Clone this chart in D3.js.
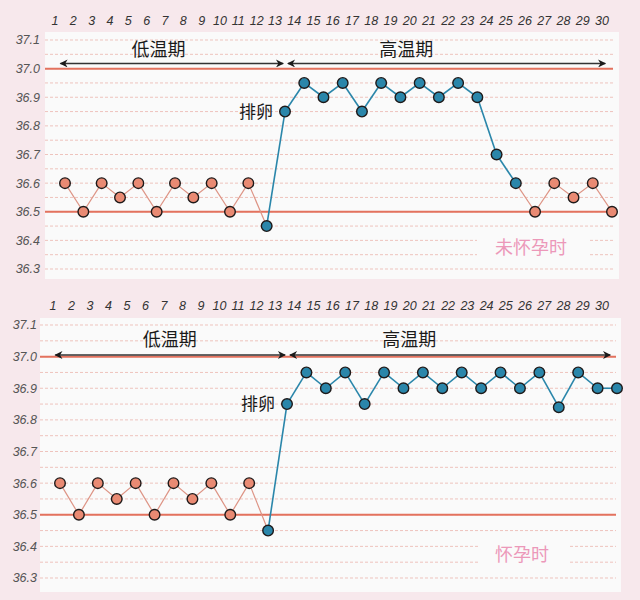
<!DOCTYPE html>
<html>
<head>
<meta charset="utf-8">
<script src="https://cdn.jsdelivr.net/npm/d3@7"></script>
<style>
  body { margin: 0; background: #f7e8ec; }
  svg { display: block; }
</style>
</head>
<body>
<svg id="chart" width="640" height="600"></svg>
<script>
// 日期 (横轴)
const dias = [1, 2, 3, 4, 5, 6, 7, 8, 9, 10, 11, 12, 13, 14, 15, 16, 17, 18, 19, 20, 21, 22, 23, 24, 25, 26, 27, 28, 29, 30];

// 体温刻度
const ticksTemp = [37.1, 37.0, 36.9, 36.8, 36.7, 36.6, 36.5, 36.4, 36.3];
const lineasGuia = [37.1, 37.05, 37.0, 36.95, 36.9, 36.85, 36.8, 36.75, 36.7, 36.65, 36.6, 36.55, 36.5, 36.45, 36.4, 36.35, 36.3];
const lineasRojas = [37.0, 36.5];

// 未怀孕时
const tempNoEmbarazo = [36.6, 36.5, 36.6, 36.55, 36.6, 36.5, 36.6, 36.55, 36.6, 36.5, 36.6, 36.45, 36.85, 36.95, 36.9,
    36.95, 36.85, 36.95, 36.9, 36.95, 36.9, 36.95, 36.9, 36.7, 36.6, 36.5, 36.6, 36.55, 36.6, 36.5];
const faseNoEmbarazo = ['b', 'b', 'b', 'b', 'b', 'b', 'b', 'b', 'b', 'b', 'b', 'a', 'a', 'a', 'a',
    'a', 'a', 'a', 'a', 'a', 'a', 'a', 'a', 'a', 'a', 'b', 'b', 'b', 'b', 'b'];

// 怀孕时
const tempEmbarazo = [36.6, 36.5, 36.6, 36.55, 36.6, 36.5, 36.6, 36.55, 36.6, 36.5, 36.6, 36.45, 36.85, 36.95, 36.9,
    36.95, 36.85, 36.95, 36.9, 36.95, 36.9, 36.95, 36.9, 36.95, 36.9, 36.95, 36.84, 36.95, 36.9, 36.9];
const faseEmbarazo = ['b', 'b', 'b', 'b', 'b', 'b', 'b', 'b', 'b', 'b', 'b', 'a', 'a', 'a', 'a',
    'a', 'a', 'a', 'a', 'a', 'a', 'a', 'a', 'a', 'a', 'a', 'a', 'a', 'a', 'a'];

const colorNaranja = "#e98a73";
const colorAzul = "#2a86aa";
const fuenteCJK = "'Noto Sans CJK SC', sans-serif";

const svg = d3.select("#chart");

// Función para dibujar un gráfico
function dibujarGrafico(cfg) {
    const g = svg.append("g");

    // fondo del panel
    g.append("rect")
        .attr("x", cfg.panel[0]).attr("y", cfg.panel[1])
        .attr("width", cfg.panel[2] - cfg.panel[0])
        .attr("height", cfg.panel[3] - cfg.panel[1])
        .attr("fill", "#fafafa");

    const x = d3.scaleLinear().domain([1, 13, 30]).range(cfg.xRango);
    const xEtiqueta = d3.scaleLinear().domain([1, 13, 30]).range(cfg.xEtiquetas);
    const y = d3.scaleLinear().domain([36.3, 37.1]).range(cfg.yRango);

    // lineas guia
    g.selectAll(".guia")
        .data(lineasGuia)
        .enter()
        .append("line")
        .attr("x1", cfg.lineaX[0]).attr("x2", cfg.lineaX[1])
        .attr("y1", d => y(d)).attr("y2", d => y(d))
        .attr("stroke", "#eec3bd")
        .attr("stroke-width", 1)
        .attr("stroke-dasharray", "3,2");

    // texto rosa con hueco en las lineas
    g.append("rect")
        .attr("x", cfg.hueco[0]).attr("width", cfg.hueco[1] - cfg.hueco[0])
        .attr("y", y(36.415)).attr("height", y(36.335) - y(36.415))
        .attr("fill", "#fafafa");
    g.append("text")
        .attr("x", cfg.nota[0]).attr("y", y(36.375))
        .attr("dy", "0.36em")
        .attr("font-family", fuenteCJK)
        .attr("font-size", 18)
        .attr("fill", "#ec98b9")
        .text(cfg.notaTexto);

    // lineas rojas
    g.selectAll(".roja")
        .data(lineasRojas)
        .enter()
        .append("line")
        .attr("x1", cfg.lineaX[0]).attr("x2", cfg.lineaX[1])
        .attr("y1", d => y(d)).attr("y2", d => y(d))
        .attr("stroke", "#e3725e")
        .attr("stroke-width", 2);

    // eje y
    g.selectAll(".ytick")
        .data(ticksTemp)
        .enter()
        .append("text")
        .attr("x", cfg.yEtiquetaX)
        .attr("y", d => y(d))
        .attr("dy", "0.35em")
        .attr("text-anchor", "end")
        .attr("font-family", "Liberation Sans, Arial, sans-serif")
        .attr("font-style", "italic")
        .attr("font-size", 12.5)
        .attr("fill", "#555")
        .text(d => d3.format(".1f")(d));

    // eje x
    g.selectAll(".xtick")
        .data(dias)
        .enter()
        .append("text")
        .attr("x", d => xEtiqueta(d))
        .attr("y", cfg.xEtiquetaY)
        .attr("text-anchor", "middle")
        .attr("font-family", "Liberation Sans, Arial, sans-serif")
        .attr("font-style", "italic")
        .attr("font-size", 12.5)
        .attr("fill", "#333")
        .text(d => d);

    // flechas
    const yFlecha = y(cfg.flechaTemp);
    const flechas = [[0.75, 12.9], [13.15, 29.65]];
    g.selectAll(".flecha")
        .data(flechas)
        .enter()
        .append("line")
        .attr("x1", d => x(d[0])).attr("x2", d => x(d[1]))
        .attr("y1", yFlecha).attr("y2", yFlecha)
        .attr("stroke", "#333")
        .attr("stroke-width", 1.6)
        .attr("marker-start", "url(#punta)")
        .attr("marker-end", "url(#punta)");

    g.selectAll(".fase")
        .data([["低温期", cfg.textoBajo], ["高温期", cfg.textoAlto]])
        .enter()
        .append("text")
        .attr("x", d => x(d[1]))
        .attr("y", d => y(cfg.faseTemp))
        .attr("dy", "0.36em")
        .attr("text-anchor", "middle")
        .attr("font-family", fuenteCJK)
        .attr("font-size", 18)
        .attr("fill", "#1a1a1a")
        .text(d => d[0]);

    // segmentos
    const puntos = dias.map((d, i) => ({ dia: d, temp: cfg.temp[i], fase: cfg.fase[i] }));
    const segmentos = d3.pairs(puntos);
    g.selectAll(".seg")
        .data(segmentos)
        .enter()
        .append("line")
        .attr("x1", d => x(d[0].dia)).attr("y1", d => y(d[0].temp))
        .attr("x2", d => x(d[1].dia)).attr("y2", d => y(d[1].temp))
        .attr("stroke", d => (d[0].fase === 'a' && d[1].fase === 'a') ? colorAzul : "#dd9384")
        .attr("stroke-width", d => (d[0].fase === 'a' && d[1].fase === 'a') ? 1.6 : 1.2);

    // puntos
    g.selectAll(".punto")
        .data(puntos)
        .enter()
        .append("circle")
        .attr("cx", d => x(d.dia))
        .attr("cy", d => y(d.temp))
        .attr("r", 5.3)
        .attr("fill", d => d.fase === 'a' ? colorAzul : colorNaranja)
        .attr("stroke", "#1e1a1a")
        .attr("stroke-width", 1.4);

    // 排卵
    g.append("text")
        .attr("x", x(13) - 12)
        .attr("y", y(36.85))
        .attr("dy", "0.36em")
        .attr("text-anchor", "end")
        .attr("font-family", fuenteCJK)
        .attr("font-size", 17)
        .attr("fill", "#1a1a1a")
        .text("排卵");
}

// marcador de flecha
svg.append("defs").append("marker")
    .attr("id", "punta")
    .attr("viewBox", "0 -5 10 10")
    .attr("refX", 9)
    .attr("refY", 0)
    .attr("markerWidth", 11)
    .attr("markerHeight", 8)
    .attr("markerUnits", "userSpaceOnUse")
    .attr("orient", "auto-start-reverse")
    .append("path")
    .attr("d", "M0,-5L10,0L0,5L3,0Z")
    .attr("fill", "#1a1a1a");

dibujarGrafico({
    panel: [45, 32, 619, 279],
    xRango: [65, 285, 612],
    xEtiquetas: [55, 275, 602],
    yRango: [269, 40],
    lineaX: [45, 613],
    yEtiquetaX: 40,
    xEtiquetaY: 25,
    flechaTemp: 37.018,
    faseTemp: 37.065,
    textoBajo: 6.1,
    textoAlto: 19.3,
    temp: tempNoEmbarazo,
    fase: faseNoEmbarazo,
    hueco: [477, 590],
    nota: [495],
    notaTexto: "未怀孕时"
});

dibujarGrafico({
    panel: [40, 318, 621, 592],
    xRango: [60, 287, 617],
    xEtiquetas: [53, 275, 602],
    yRango: [578, 325],
    lineaX: [40, 616],
    yEtiquetaX: 37,
    xEtiquetaY: 310,
    flechaTemp: 37.005,
    faseTemp: 37.053,
    textoBajo: 6.8,
    textoAlto: 19.3,
    temp: tempEmbarazo,
    fase: faseEmbarazo,
    hueco: [480, 568],
    nota: [495],
    notaTexto: "怀孕时"
});
</script>
</body>
</html>
